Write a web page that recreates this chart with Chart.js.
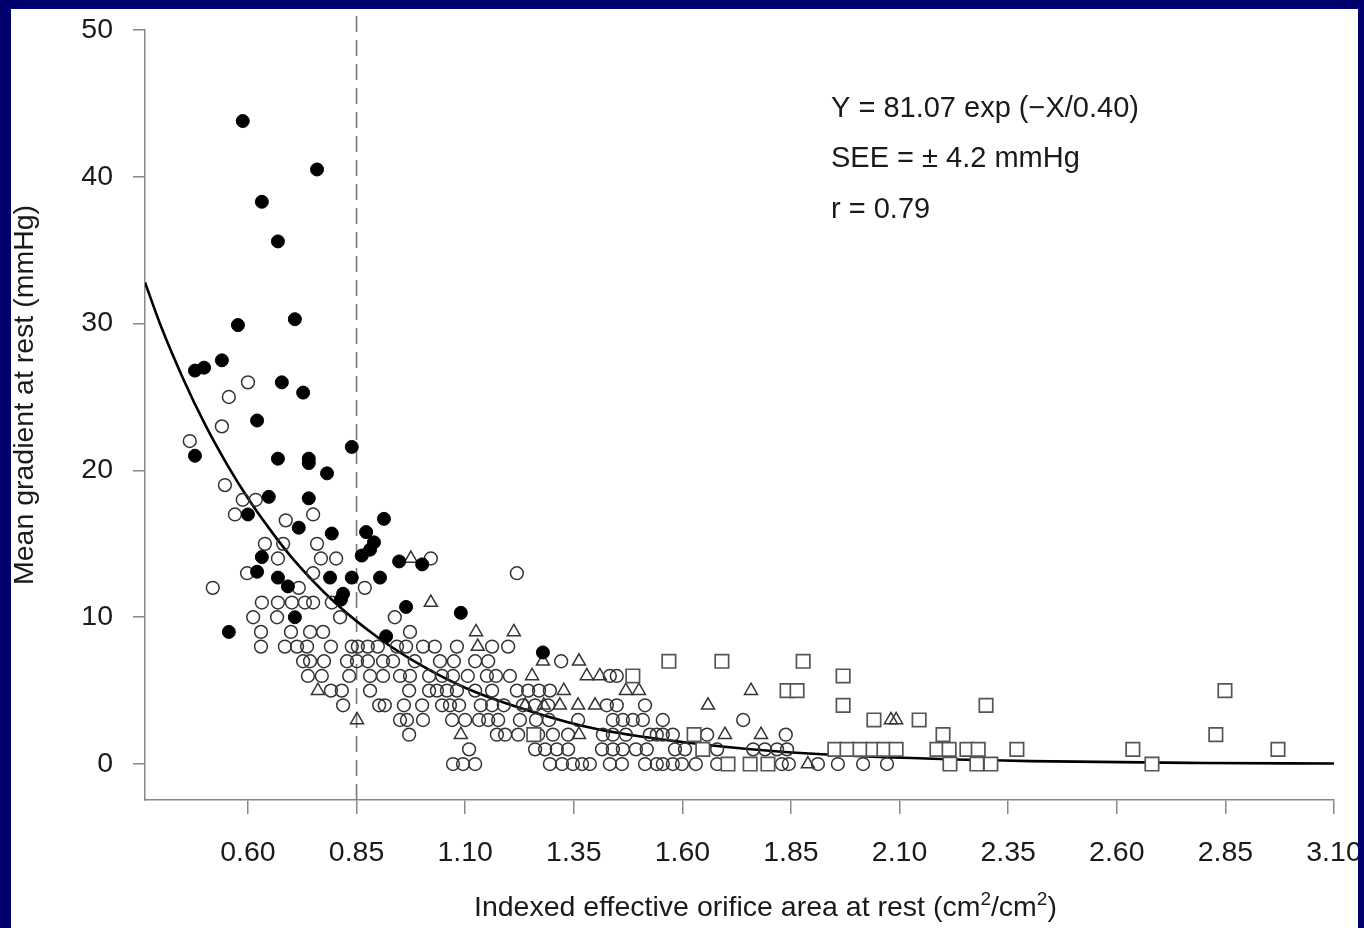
<!DOCTYPE html>
<html lang="en">
<head>
    <meta charset="UTF-8">
    <title>Mean gradient vs indexed EOA</title>
    <script src="https://cdn.jsdelivr.net/npm/chart.js"></script>
    <style>
        body { margin: 0; background: #00006e; }
        #chart { display: block; }
    </style>
</head>
<body>
    <canvas id="chart" width="1364" height="928"></canvas>
    <script>
        // tick labels
        const xTicks = [0.60, 0.85, 1.10, 1.35, 1.60, 1.85, 2.10, 2.35, 2.60, 2.85, 3.10];
        const yTicks = [0, 10, 20, 30, 40, 50];

        // filled circles
        const filledX = [0.588, 0.759, 0.632, 0.669, 0.708, 0.577, 0.540, 0.499, 0.478, 0.678, 0.727, 0.621, 0.839, 0.478, 0.669,
            0.740, 0.740, 0.782, 0.648, 0.740, 0.600, 0.717, 0.793, 0.913, 0.872, 0.890, 0.881, 0.862, 0.632, 0.621,
            0.669, 0.692, 0.789, 0.839, 0.904, 0.819, 0.814, 0.708, 0.556, 0.918, 0.948, 1.001, 0.964, 1.090, 1.279];
        const filledY = [43.8, 40.5, 38.3, 35.6, 30.3, 29.9, 27.5, 27.0, 26.8, 26.0, 25.3, 23.4, 21.6, 21.0, 20.8,
            20.8, 20.5, 19.8, 18.2, 18.1, 17.0, 16.1, 15.7, 16.7, 15.8, 15.1, 14.6, 14.2, 14.1, 13.1,
            12.7, 12.1, 12.7, 12.7, 12.7, 11.6, 11.2, 10.0, 9.0, 8.7, 13.8, 13.6, 10.7, 10.3, 7.6];

        // open circles
        const openX = [
            0.600, 0.556, 0.540, 0.466, 0.547, 0.588, 0.618, 0.570, 0.750, 0.687, 0.639, 0.681, 0.759, 0.669, 0.768, 0.803,
            1.021, 0.598, 0.750, 1.219, 0.519, 0.717, 0.869,
            0.632, 0.669, 0.701, 0.731, 0.750, 0.793,
            0.612, 0.667, 0.812, 0.938,
            0.630, 0.699, 0.743, 0.773, 0.973,
            0.630, 0.685, 0.713, 0.736, 0.791, 0.839, 0.853, 0.876, 0.899, 0.943, 0.964, 1.003, 1.030, 1.081, 1.162, 1.199,
            0.727, 0.743, 0.775, 0.828, 0.851, 0.876, 0.911, 0.934, 0.984, 1.042, 1.074, 1.123, 1.153, 1.321,
            0.738, 0.770, 0.833, 0.881, 0.911, 0.950, 0.973, 1.017, 1.047, 1.072, 1.106, 1.150, 1.171, 1.203, 1.433, 1.449,
            0.791, 0.816, 0.881, 0.971, 1.017, 1.035, 1.058, 1.081, 1.123, 1.162, 1.219, 1.245, 1.270, 1.295,
            0.819, 0.902, 0.915, 0.959, 1.001, 1.047, 1.065, 1.086, 1.136, 1.162, 1.189, 1.233, 1.261, 1.291, 1.426, 1.449, 1.514,
            0.950, 0.966, 1.003, 1.070, 1.100, 1.132, 1.153, 1.176, 1.226, 1.263, 1.293, 1.360, 1.440, 1.463, 1.486, 1.509, 1.555, 1.740,
            0.971, 1.173, 1.192, 1.222, 1.268, 1.302, 1.337, 1.417, 1.440, 1.470, 1.525, 1.541, 1.555, 1.578, 1.657, 1.838,
            1.109, 1.261, 1.284, 1.311, 1.337, 1.415, 1.440, 1.463, 1.493, 1.518, 1.583, 1.606, 1.680, 1.763, 1.790, 1.818, 1.841,
            1.072, 1.095, 1.123, 1.295, 1.323, 1.348, 1.369, 1.387, 1.433, 1.461, 1.514, 1.541, 1.555, 1.578, 1.599, 1.631, 1.680,
            1.829, 1.845, 1.912, 1.958, 2.016, 2.071
        ];
        const openY = [
            26, 25, 23, 22, 19, 18, 18, 17, 17, 16.6, 15, 15, 15, 14, 14, 14,
            14, 13, 13, 13, 12, 12, 12,
            11, 11, 11, 11, 11, 11,
            10, 10, 10, 10,
            9, 9, 9, 9, 9,
            8, 8, 8, 8, 8, 8, 8, 8, 8, 8, 8, 8, 8, 8, 8, 8,
            7, 7, 7, 7, 7, 7, 7, 7, 7, 7, 7, 7, 7, 7,
            6, 6, 6, 6, 6, 6, 6, 6, 6, 6, 6, 6, 6, 6, 6, 6,
            5, 5, 5, 5, 5, 5, 5, 5, 5, 5, 5, 5, 5, 5,
            4, 4, 4, 4, 4, 4, 4, 4, 4, 4, 4, 4, 4, 4, 4, 4, 4,
            3, 3, 3, 3, 3, 3, 3, 3, 3, 3, 3, 3, 3, 3, 3, 3, 3, 3,
            2, 2, 2, 2, 2, 2, 2, 2, 2, 2, 2, 2, 2, 2, 2, 2,
            1, 1, 1, 1, 1, 1, 1, 1, 1, 1, 1, 1, 1, 1, 1, 1, 1,
            0, 0, 0, 0, 0, 0, 0, 0, 0, 0, 0, 0, 0, 0, 0, 0, 0,
            0, 0, 0, 0, 0, 0
        ];

        // open triangles
        const triX = [0.975, 1.021, 1.125, 1.212, 1.129, 1.362, 1.279, 1.254, 1.380, 1.410, 1.327, 1.470, 1.500, 1.758,
            1.238, 1.281, 1.318, 1.360, 1.399, 1.659, 0.761, 0.851, 1.090, 1.362, 1.698, 1.781, 1.889, 2.080, 2.092];
        const triY = [14, 11, 9, 9, 8, 7, 7, 6, 6, 6, 5, 5, 5, 5,
            4, 4, 4, 4, 4, 4, 5, 3, 2, 2, 2, 2, 0, 3, 3];

        // open squares
        const sqX = [1.569, 1.691, 1.878, 1.970, 1.486, 1.841, 1.864, 1.970, 1.627, 1.258, 1.647, 1.951, 1.979, 2.009,
            1.705, 1.756, 1.797, 2.041, 2.145, 2.299, 2.200, 2.039, 2.064, 2.092, 2.186, 2.214, 2.255, 2.281, 2.370,
            2.216, 2.278, 2.310, 2.849, 2.828, 2.637, 2.681, 2.971];
        const sqY = [7, 7, 7, 6, 6, 5, 5, 4, 2, 2, 1, 1, 1, 1,
            0, 0, 0, 3, 3, 4, 2, 1, 1, 1, 1, 1, 1, 1, 1,
            0, 0, 0, 5, 2, 1, 0, 1];

        // fitted curve
        const fitX = [0.363, 0.40, 0.45, 0.50, 0.55, 0.60, 0.65, 0.70, 0.80, 0.90, 1.00, 1.10, 1.25, 1.40, 1.60, 1.80, 2.00, 2.40, 2.80, 3.10];
        const fitY = [32.8, 29.8, 26.3, 23.2, 20.5, 18.1, 16.0, 14.1, 11.0, 8.6, 6.7, 5.2, 3.6, 2.4, 1.5, 0.9, 0.55, 0.2, 0.07, 0.04];

        const cutoffX = 0.85;

        const pts = (xs, ys) => xs.map((x, i) => ({ x: x, y: ys[i] }));
        const FONT = '"Liberation Sans", Arial, Helvetica, sans-serif';

        // page background, frame and free text
        const framePlugin = {
            id: 'frame',
            beforeDraw(chart) {
                const c = chart.ctx;
                c.save();
                c.fillStyle = '#00006e';
                c.fillRect(0, 0, chart.width, chart.height);
                c.fillStyle = '#ffffff';
                c.fillRect(11, 9, 1347, 919);
                c.restore();
            },
            afterDraw(chart) {
                const c = chart.ctx;
                c.save();
                c.fillStyle = '#1a1a1a';
                c.font = '29px ' + FONT;
                c.textBaseline = 'alphabetic';
                c.textAlign = 'left';
                c.fillText('Y = 81.07 exp (\u2212X/0.40)', 831, 117);
                c.fillText('SEE = \u00b1 4.2 mmHg', 831, 167);
                c.fillText('r = 0.79', 831, 218);

                // x axis title with superscripts
                const parts = [['Indexed effective orifice area at rest (cm', false], ['2', true], ['/cm', false], ['2', true], [')', false]];
                let x = 474;
                parts.forEach(p => {
                    c.font = (p[1] ? '19px ' : '28.5px ') + FONT;
                    c.fillText(p[0], x, p[1] ? 905 : 916);
                    x += c.measureText(p[0]).width;
                });

                // y axis title
                c.font = '28.5px ' + FONT;
                c.translate(25, 395);
                c.rotate(-Math.PI / 2);
                c.textAlign = 'center';
                c.textBaseline = 'middle';
                c.fillText('Mean gradient at rest (mmHg)', 0, 0);
                c.restore();

                // blue frame on top, cuts the last tick label like the original
                c.save();
                c.fillStyle = '#00006e';
                c.fillRect(1358, 0, 6, chart.height);
                c.fillRect(0, 0, 11, chart.height);
                c.fillRect(0, 0, chart.width, 9);
                c.restore();
            }
        };

        const chart = new Chart(document.getElementById('chart'), {
            type: 'scatter',
            data: {
                datasets: [
                    {
                        label: 'filled',
                        data: pts(filledX, filledY),
                        pointStyle: 'circle',
                        pointRadius: 6.5,
                        backgroundColor: '#000',
                        borderColor: '#000',
                        borderWidth: 1,
                        order: 1
                    },
                    {
                        label: 'squares',
                        data: pts(sqX, sqY),
                        pointStyle: 'rect',
                        pointRadius: 9.5,
                        backgroundColor: '#fff',
                        borderColor: '#555',
                        borderWidth: 1.7,
                        order: 2
                    },
                    {
                        label: 'triangles',
                        data: pts(triX, triY),
                        pointStyle: 'triangle',
                        pointRadius: 7.5,
                        backgroundColor: 'rgba(255,255,255,0)',
                        borderColor: '#333',
                        borderWidth: 1.5,
                        order: 3
                    },
                    {
                        label: 'open',
                        data: pts(openX, openY),
                        pointStyle: 'circle',
                        pointRadius: 6.4,
                        backgroundColor: 'rgba(255,255,255,0)',
                        borderColor: '#333',
                        borderWidth: 1.5,
                        order: 4
                    },
                    {
                        label: 'fit',
                        type: 'line',
                        data: pts(fitX, fitY),
                        borderColor: '#000',
                        borderWidth: 2.6,
                        pointRadius: 0,
                        cubicInterpolationMode: 'monotone',
                        fill: false,
                        order: 5
                    },
                    {
                        label: 'cutoff',
                        type: 'line',
                        data: [{ x: cutoffX, y: -2.45 }, { x: cutoffX, y: 51.4 }],
                        borderColor: '#777',
                        borderWidth: 1.6,
                        borderDash: [16, 8],
                        pointRadius: 0,
                        fill: false,
                        clip: false,
                        order: 6
                    }
                ]
            },
            options: {
                responsive: false,
                animation: false,
                events: [],
                layout: { padding: { left: 0, top: 30, right: 30, bottom: 0 } },
                plugins: {
                    legend: { display: false },
                    tooltip: { enabled: false }
                },
                scales: {
                    x: {
                        type: 'linear',
                        min: 0.363,
                        max: 3.10,
                        afterBuildTicks: s => { s.ticks = xTicks.map(v => ({ value: v })); },
                        afterFit: s => { s.height = 128; s.paddingLeft = 0; s.paddingRight = 0; },
                        grid: { display: true, drawOnChartArea: false, drawTicks: true, tickLength: 14, color: '#888', lineWidth: 1.5 },
                        border: { display: true, color: '#888', width: 1.5 },
                        ticks: {
                            autoSkip: false,
                            maxRotation: 0,
                            padding: 22,
                            color: '#1a1a1a',
                            font: { family: FONT, size: 28.5 },
                            callback: v => v.toFixed(2)
                        }
                    },
                    y: {
                        min: -2.45,
                        max: 50,
                        afterBuildTicks: s => { s.ticks = yTicks.map(v => ({ value: v })); },
                        afterFit: s => { s.width = 145; s.paddingTop = 0; s.paddingBottom = 0; },
                        grid: { display: true, drawOnChartArea: false, drawTicks: true, tickLength: 12, color: '#888', lineWidth: 1.5 },
                        border: { display: true, color: '#888', width: 1.5 },
                        ticks: {
                            padding: 20,
                            color: '#1a1a1a',
                            font: { family: FONT, size: 28.5 },
                            callback: v => String(v)
                        }
                    }
                }
            },
            plugins: [framePlugin]
        });
    </script>
</body>
</html>
